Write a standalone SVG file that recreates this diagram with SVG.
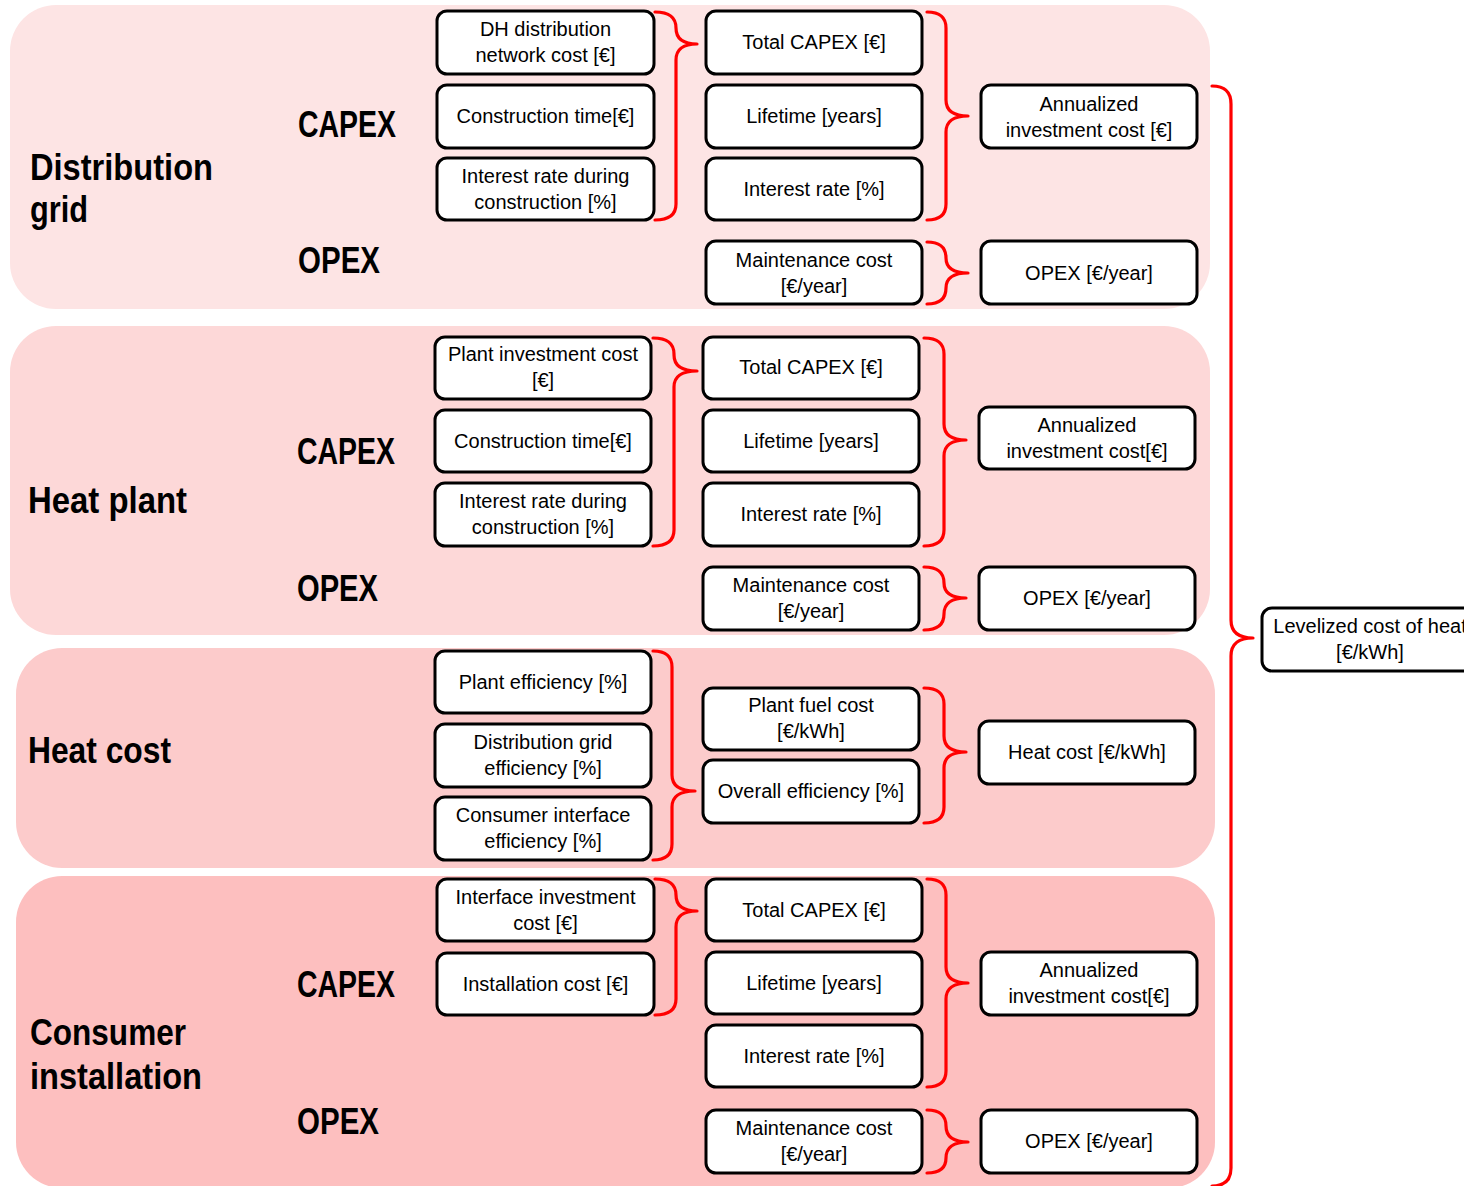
<svg xmlns="http://www.w3.org/2000/svg" width="1464" height="1186" viewBox="0 0 1464 1186">
<style>
.bg{stroke:none}
.n rect{fill:#fff;stroke:#000;stroke-width:3}
.n text{font-family:"Liberation Sans",Arial,sans-serif;font-size:20px;fill:#000;text-anchor:middle}
.lbl{font-family:"Liberation Sans",Arial,sans-serif;font-size:36px;font-weight:bold;fill:#000}
.br path{fill:none;stroke:#ff0000;stroke-width:3.2;stroke-linecap:round;stroke-linejoin:round}
</style>
<rect width="1464" height="1186" fill="#fff"/>
<g id="sections">
<rect class="bg" x="10" y="5" width="1200" height="304" rx="46" fill="#fde4e4"/>
<rect class="bg" x="10" y="326" width="1200" height="309" rx="46" fill="#fdd8d8"/>
<rect class="bg" x="16" y="648" width="1199" height="220" rx="46" fill="#fccbcb"/>
<rect class="bg" x="16" y="876" width="1199" height="312" rx="46" fill="#fdbfbf"/>
</g>
<g id="labels">
<text class="lbl" x="30" y="180" textLength="183" lengthAdjust="spacingAndGlyphs">Distribution</text>
<text class="lbl" x="30" y="222" textLength="58" lengthAdjust="spacingAndGlyphs">grid</text>
<text class="lbl" x="298" y="137" textLength="98" lengthAdjust="spacingAndGlyphs">CAPEX</text>
<text class="lbl" x="298" y="273" textLength="82" lengthAdjust="spacingAndGlyphs">OPEX</text>
<text class="lbl" x="28" y="513" textLength="159" lengthAdjust="spacingAndGlyphs">Heat plant</text>
<text class="lbl" x="297" y="464" textLength="98" lengthAdjust="spacingAndGlyphs">CAPEX</text>
<text class="lbl" x="297" y="601" textLength="81" lengthAdjust="spacingAndGlyphs">OPEX</text>
<text class="lbl" x="28" y="763" textLength="143" lengthAdjust="spacingAndGlyphs">Heat cost</text>
<text class="lbl" x="30" y="1045" textLength="156" lengthAdjust="spacingAndGlyphs">Consumer</text>
<text class="lbl" x="30" y="1089" textLength="172" lengthAdjust="spacingAndGlyphs">installation</text>
<text class="lbl" x="297" y="997" textLength="98" lengthAdjust="spacingAndGlyphs">CAPEX</text>
<text class="lbl" x="297" y="1134" textLength="82" lengthAdjust="spacingAndGlyphs">OPEX</text>
</g>
<g id="connectors" class="br">
<path d="M655,12 Q676,12 676,28 L676,28 Q676,44 697,44 Q676,44 676,60 L676,204 Q676,220 655,220"/>
<path d="M927,12 Q946,12 946,28 L946,100 Q946,116 968,116 Q946,116 946,132 L946,204 Q946,220 927,220"/>
<path d="M927,242 Q946,242 946,258 L946,258 Q946,273 968,273 Q946,273 946,288 L946,288 Q946,304 927,304"/>
<path d="M653,338 Q674,338 674,354 L674,355 Q674,371 697,371 Q674,371 674,387 L674,530 Q674,546 653,546"/>
<path d="M924,338 Q944,338 944,354 L944,424 Q944,440 966,440 Q944,440 944,456 L944,530 Q944,546 924,546"/>
<path d="M924,567 Q944,567 944,583 L944,583 Q944,598 966,598 Q944,598 944,614 L944,614 Q944,630 924,630"/>
<path d="M653,651 Q672,651 672,667 L672,775 Q672,791 695,791 Q672,791 672,807 L672,844 Q672,860 653,860"/>
<path d="M924,688 Q944,688 944,704 L944,736 Q944,752 966,752 Q944,752 944,768 L944,807 Q944,823 924,823"/>
<path d="M655,879 Q676,879 676,895 L676,895 Q676,911 697,911 Q676,911 676,927 L676,999 Q676,1015 655,1015"/>
<path d="M927,879 Q946,879 946,895 L946,967 Q946,983 968,983 Q946,983 946,999 L946,1071 Q946,1087 927,1087"/>
<path d="M927,1110 Q946,1110 946,1126 L946,1126 Q946,1142 968,1142 Q946,1142 946,1158 L946,1158 Q946,1173 927,1173"/>
<path d="M1212,86 Q1231,86 1231,104 L1231,620 Q1231,638 1253,638 Q1231,638 1231,656 L1231,1168 Q1231,1186 1212,1186"/>
</g>
<g id="n1" class="n"><rect x="437" y="11" width="217" height="63" rx="10"/><text x="545.5" y="36">DH distribution</text><text x="545.5" y="62">network cost [€]</text></g>
<g id="n2" class="n"><rect x="437" y="85" width="217" height="63" rx="10"/><text x="545.5" y="123">Construction time[€]</text></g>
<g id="n3" class="n"><rect x="437" y="158" width="217" height="62" rx="10"/><text x="545.5" y="183">Interest rate during</text><text x="545.5" y="209">construction [%]</text></g>
<g id="n4" class="n"><rect x="706" y="11" width="216" height="63" rx="10"/><text x="814" y="49">Total CAPEX [€]</text></g>
<g id="n5" class="n"><rect x="706" y="85" width="216" height="63" rx="10"/><text x="814" y="123">Lifetime [years]</text></g>
<g id="n6" class="n"><rect x="706" y="158" width="216" height="62" rx="10"/><text x="814" y="196">Interest rate [%]</text></g>
<g id="n7" class="n"><rect x="706" y="241" width="216" height="63" rx="10"/><text x="814" y="267">Maintenance cost</text><text x="814" y="293">[€/year]</text></g>
<g id="n8" class="n"><rect x="981" y="85" width="216" height="63" rx="10"/><text x="1089" y="111">Annualized</text><text x="1089" y="137">investment cost [€]</text></g>
<g id="n9" class="n"><rect x="981" y="241" width="216" height="63" rx="10"/><text x="1089" y="280">OPEX [€/year]</text></g>
<g id="n10" class="n"><rect x="435" y="337" width="216" height="62" rx="10"/><text x="543" y="361">Plant investment cost</text><text x="543" y="387">[€]</text></g>
<g id="n11" class="n"><rect x="435" y="410" width="216" height="62" rx="10"/><text x="543" y="448">Construction time[€]</text></g>
<g id="n12" class="n"><rect x="435" y="483" width="216" height="63" rx="10"/><text x="543" y="508">Interest rate during</text><text x="543" y="534">construction [%]</text></g>
<g id="n13" class="n"><rect x="703" y="337" width="216" height="62" rx="10"/><text x="811" y="374">Total CAPEX [€]</text></g>
<g id="n14" class="n"><rect x="703" y="410" width="216" height="62" rx="10"/><text x="811" y="448">Lifetime [years]</text></g>
<g id="n15" class="n"><rect x="703" y="483" width="216" height="63" rx="10"/><text x="811" y="521">Interest rate [%]</text></g>
<g id="n16" class="n"><rect x="703" y="567" width="216" height="63" rx="10"/><text x="811" y="592">Maintenance cost</text><text x="811" y="618">[€/year]</text></g>
<g id="n17" class="n"><rect x="979" y="407" width="216" height="62" rx="10"/><text x="1087" y="432">Annualized</text><text x="1087" y="458">investment cost[€]</text></g>
<g id="n18" class="n"><rect x="979" y="567" width="216" height="63" rx="10"/><text x="1087" y="605">OPEX [€/year]</text></g>
<g id="n19" class="n"><rect x="435" y="651" width="216" height="62" rx="10"/><text x="543" y="689">Plant efficiency [%]</text></g>
<g id="n20" class="n"><rect x="435" y="724" width="216" height="63" rx="10"/><text x="543" y="749">Distribution grid</text><text x="543" y="775">efficiency [%]</text></g>
<g id="n21" class="n"><rect x="435" y="797" width="216" height="63" rx="10"/><text x="543" y="822">Consumer interface</text><text x="543" y="848">efficiency [%]</text></g>
<g id="n22" class="n"><rect x="703" y="688" width="216" height="62" rx="10"/><text x="811" y="712">Plant fuel cost</text><text x="811" y="738">[€/kWh]</text></g>
<g id="n23" class="n"><rect x="703" y="760" width="216" height="63" rx="10"/><text x="811" y="798">Overall efficiency [%]</text></g>
<g id="n24" class="n"><rect x="979" y="721" width="216" height="63" rx="10"/><text x="1087" y="759">Heat cost [€/kWh]</text></g>
<g id="n25" class="n"><rect x="437" y="879" width="217" height="62" rx="10"/><text x="545.5" y="904">Interface investment</text><text x="545.5" y="930">cost [€]</text></g>
<g id="n26" class="n"><rect x="437" y="953" width="217" height="62" rx="10"/><text x="545.5" y="991">Installation cost [€]</text></g>
<g id="n27" class="n"><rect x="706" y="879" width="216" height="62" rx="10"/><text x="814" y="917">Total CAPEX [€]</text></g>
<g id="n28" class="n"><rect x="706" y="952" width="216" height="62" rx="10"/><text x="814" y="990">Lifetime [years]</text></g>
<g id="n29" class="n"><rect x="706" y="1025" width="216" height="62" rx="10"/><text x="814" y="1063">Interest rate [%]</text></g>
<g id="n30" class="n"><rect x="706" y="1110" width="216" height="63" rx="10"/><text x="814" y="1135">Maintenance cost</text><text x="814" y="1161">[€/year]</text></g>
<g id="n31" class="n"><rect x="981" y="952" width="216" height="63" rx="10"/><text x="1089" y="977">Annualized</text><text x="1089" y="1003">investment cost[€]</text></g>
<g id="n32" class="n"><rect x="981" y="1110" width="216" height="63" rx="10"/><text x="1089" y="1148">OPEX [€/year]</text></g>
<g id="n33" class="n"><rect x="1262" y="608" width="216" height="63" rx="10"/><text x="1370" y="633">Levelized cost of heat</text><text x="1370" y="659">[€/kWh]</text></g>
</svg>
